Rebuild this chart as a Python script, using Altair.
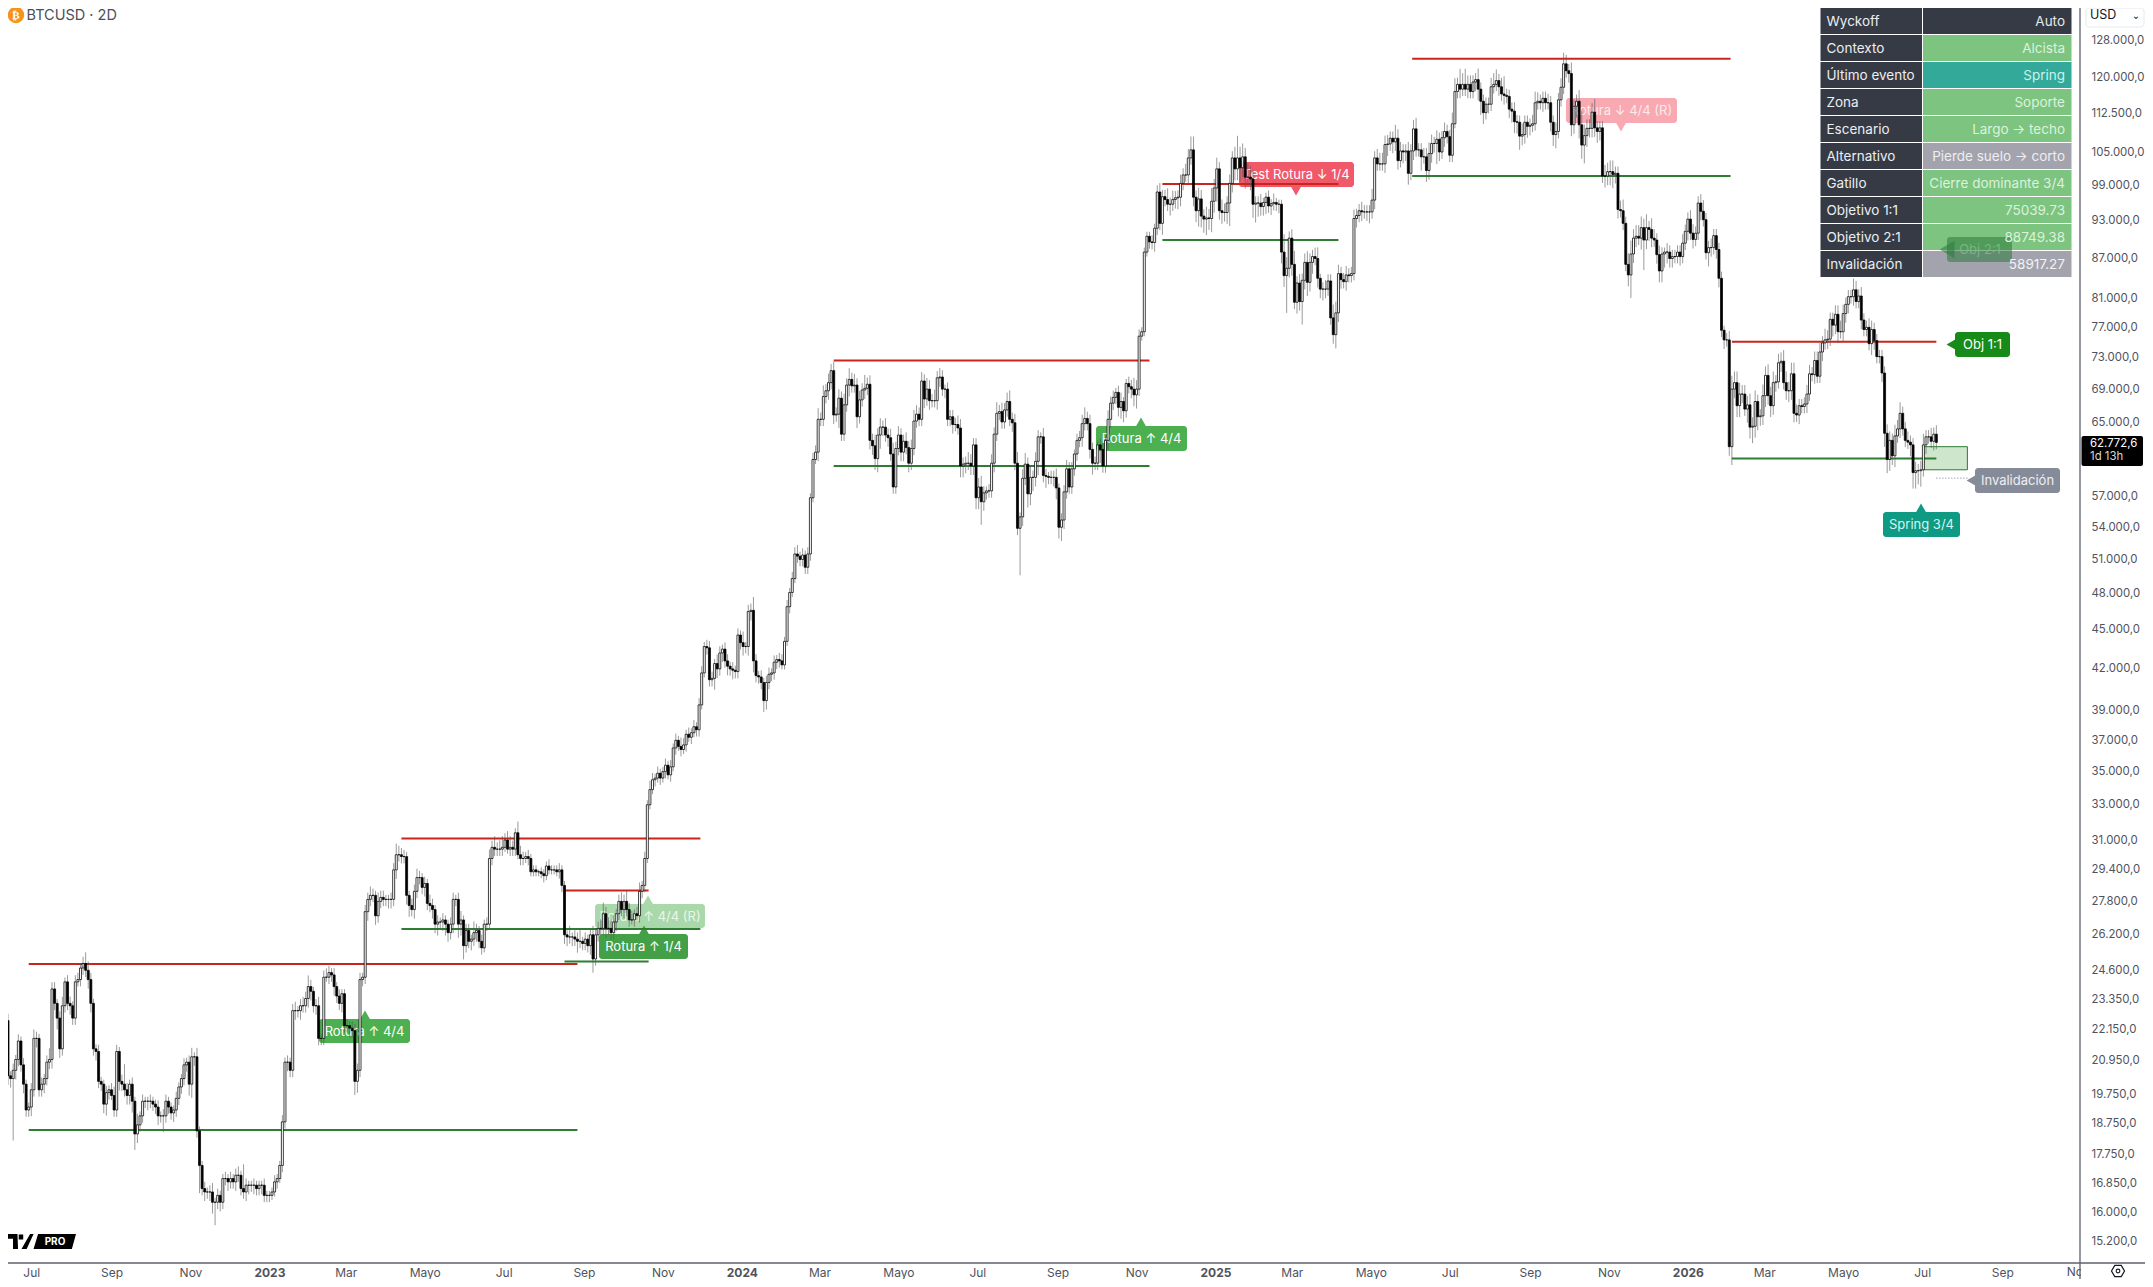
import datetime as dt
import altair as alt
import pandas as pd

# ---------------- candle closes, thousands of USD (2-day bars)
close_a = [
30.0,28.3,22.5,20.4,20.3,20.6,21.0,21.7,20.8,20.1,19.2,19.3,19.9,21.8,21.8,19.9,
20.1,20.3,20.9,21.0,23.8,23.2,22.6,21.4,23.1,24.1,23.2,23.1,22.6,24.1,24.2,24.7,
24.9,24.6,24.2,23.2,21.4,21.3,20.2,20.1,19.4,19.8,19.9,19.7,19.2,21.3,20.2,20.1,
19.9,19.7,20.1,19.5,18.4,18.7,19.0,19.5,19.5,19.5,19.5,19.4,19.3,19.0,19.0,19.0,
19.5,19.3,19.1,19.2,19.6,20.0,20.3,20.8,20.9,20.1,21.1,21.1,18.5,17.4,16.7,16.6,
16.6,16.6,16.3,16.3,16.5,16.3,17.0,17.0,16.9,17.0,16.9,17.1,17.1,16.7,16.6,16.8,
16.8,16.8,16.8,16.7,16.8,16.8,16.5,16.5,16.5,16.6,16.9,17.0,17.4,18.8,20.9,20.9,20.6,22.9,22.9,
22.9,23.1,23.1,23.4,23.9,23.7,23.1,23.1,21.8,21.8,24.3,24.3,24.5,24.4,23.9,23.5,23.2,
23.6,22.3,22.3,22.2,22.1,20.2,20.6,24.2,24.3,27.3,27.9,28.1,28.1,27.1,27.8,28.0,
27.9,27.9,27.9,27.9,29.4,30.2,30.2,30.1,30.1,28.1,27.6,27.4,28.3,29.0,29.0,28.5,
28.7,27.7,27.6,27.4,26.7,26.8,26.8,26.9,26.7,26.3,26.7,27.9,27.9,26.7,26.9,25.7,
26.4,25.9,26.0,26.3,26.4,25.9,25.6,26.7,26.7,30.0,30.6,30.5,30.5,30.5,30.6,31.0,30.5,30.6,
30.5,31.4,30.2,30.0,30.0,30.1,30.0,29.3,29.4,29.3,29.3,29.2,29.1,29.6,29.4,29.4,
29.4,29.3,29.4,28.6,26.2,26.1,26.1,26.1,26.0,25.9,25.9,25.8,26.0,25.7,26.2,25.1,26.2,26.5,
26.5,27.2,26.5,26.5,26.3,26.8,27.2,27.8,27.4,27.8,27.4,26.9,26.9,27.2,27.1,28.3,28.6,30.0,
33.0,33.9,34.5,
]
close_b = [34.6,34.9,34.6,35.0,35.4,34.8,35.3,36.5,37.0,36.6,36.4,36.7,37.4,37.2,37.5,37.9,37.7]
close_c = [
39.4,41.7,43.7,43.6,41.2,41.3,42.4,42.0,43.2,43.5,42.6,42.2,42.0,41.9,41.8,44.6,44.0,
43.7,43.7,46.5,46.6,42.6,41.5,41.4,41.0,39.7,41.0,41.6,41.7,42.5,42.7,42.6,42.3,
44.1,46.9,48.1,49.3,51.5,51.3,51.0,51.4,50.3,51.5,56.9,60.9,61.7,65.4,65.4,68.1,68.8,
69.8,71.3,65.9,66.0,67.9,63.7,67.1,69.5,70.2,69.4,69.5,65.7,67.7,68.9,69.1,69.6,63.0,
62.4,61.0,63.6,64.5,64.5,63.6,63.3,61.5,58.0,62.1,63.6,61.7,62.9,62.2,60.5,62.1,65.2,66.0,
65.4,70.0,67.8,69.0,67.6,67.6,67.6,70.4,70.5,69.0,69.0,65.4,65.7,64.8,64.8,64.4,
60.2,60.4,60.5,60.5,60.2,62.5,56.9,58.0,56.5,57.4,57.6,57.6,60.5,63.7,66.1,66.3,65.1,66.5,
67.5,65.4,65.0,60.5,53.9,55.0,58.9,60.4,57.3,59.0,59.0,60.7,63.4,63.4,59.2,59.1,59.0,
59.0,59.0,57.9,54.0,54.7,57.5,59.9,58.0,59.9,61.5,63.0,63.3,64.9,65.5,64.9,62.0,60.5,
60.5,62.5,62.0,60.2,63.0,65.4,67.3,68.0,68.6,66.8,67.5,66.4,69.7,69.3,69.0,68.3,69.0,
75.8,76.4,88.0,
]
close_d = [
90.5,89.6,89.5,91.8,97.9,92.6,97.1,96.6,95.8,95.8,96.6,96.9,97.0,99.4,100.9,100.9,104.0,
105.5,97.0,94.7,96.7,93.8,93.3,93.5,93.4,96.3,98.6,102.0,94.7,94.4,94.4,96.0,99.4,104.0,
102.0,104.0,102.2,104.2,100.5,100.5,100.2,95.8,96.0,96.0,95.4,96.1,97.0,95.5,95.9,96.1,95.8,
95.8,88.0,84.4,85.5,90.2,86.1,80.5,83.3,80.6,83.7,86.4,83.4,86.4,87.3,87.0,84.0,82.4,
82.4,82.4,83.6,78.3,76.0,79.0,84.7,83.8,83.5,84.5,84.4,84.7,93.4,93.9,94.7,94.5,94.5,
94.5,94.5,96.5,104.0,102.9,102.9,102.9,106.5,106.6,107.7,107.0,107.7,103.5,105.3,105.1,105.3,101.2,
105.3,109.5,105.5,105.5,104.2,104.2,101.7,104.8,106.7,106.7,107.5,105.1,107.8,109.0,108.0,104.5,110.5,
117.0,118.5,117.5,118.5,117.5,118.5,117.0,119.0,119.5,117.5,115.0,112.7,114.4,114.4,118.0,118.5,119.3,
118.0,116.5,116.2,116.0,113.4,113.0,110.9,110.8,108.1,108.4,110.8,110.0,110.2,110.5,114.7,115.0,114.7,
115.6,114.7,114.7,110.8,108.4,109.0,115.3,117.9,122.9,121.4,120.8,110.3,114.0,115.0,110.3,106.4,108.2,
109.6,109.6,112.8,109.7,109.0,109.7,100.7,100.7,101.5,101.5,101.0,101.2,94.9,94.7,92.6,86.1,84.5,
87.7,90.2,90.5,90.2,91.9,89.9,91.9,91.6,90.2,89.9,87.6,85.1,87.7,88.0,88.0,87.0,87.3,
87.3,88.0,87.3,89.4,91.3,93.3,91.0,90.0,91.0,96.0,94.6,93.2,87.9,88.7,88.7,90.6,88.4,
84.0,76.6,75.3,75.3,62.3,
]
close_e = [
69.0,69.8,67.0,68.4,68.4,66.6,67.1,64.5,64.6,67.5,65.7,65.8,68.2,70.7,68.2,67.0,69.8,69.9,72.3,72.5,
69.8,68.8,68.8,70.9,66.1,65.9,67.0,66.9,67.2,68.4,70.9,70.8,72.6,70.6,73.7,74.9,75.3,75.4,78.1,77.3,
78.8,76.4,76.4,78.9,80.2,81.3,81.3,82.3,80.6,81.4,78.0,76.7,77.0,74.8,76.7,75.2,73.1,73.1,71.0,63.8,
60.9,63.0,61.3,63.5,64.3,66.1,64.3,63.0,62.8,62.5,59.5,59.7,59.7,59.8,62.5,63.4,63.4,62.9,63.7,62.77,
]
# wick lengths above / below the body, in half-percent steps, estimated bar by bar
wick_up = [
1,1,2,3,2,3,2,3,2,3,2,2,3,4,3,2,3,2,3,5,3,3,2,3,4,
2,3,3,2,3,3,2,3,5,4,3,2,2,3,2,2,3,2,3,4,3,2,3,9,3,
2,3,2,5,2,3,2,2,3,2,2,3,2,3,3,2,2,2,3,2,2,3,2,3,4,
2,4,2,2,3,2,3,4,2,3,2,2,3,2,3,2,3,4,2,11,3,2,2,3,2,
2,2,3,2,2,2,3,2,2,3,2,3,2,3,4,2,3,4,3,5,3,2,3,4,2,
3,4,3,2,3,2,3,2,2,3,2,3,3,3,3,2,3,3,4,3,2,4,3,3,2,
2,3,3,5,4,3,3,2,2,3,3,4,3,2,3,2,4,3,2,3,2,3,2,2,3,
3,2,3,4,2,3,3,2,5,3,2,3,2,3,4,3,5,3,4,5,3,4,5,3,2,
5,4,3,2,3,2,2,2,1,2,2,2,3,2,2,2,3,2,2,2,5,2,3,3,5,
2,3,2,3,4,3,3,4,5,3,5,4,3,2,3,4,3,5,3,4,2,3,4,2,3,
2,4,3,2,3,2,2,3,2,3,2,3,2,4,3,2,3,2,3,2,3,3,2,3,3,
3,2,4,3,2,3,3,2,3,2,3,2,5,2,3,3,6,3,2,3,2,3,3,2,3,
2,3,3,2,3,2,3,3,4,2,3,2,3,2,3,3,5,3,5,3,4,3,4,3,4,
3,5,3,5,3,5,3,4,3,6,3,4,3,5,3,4,3,4,3,4,5,3,4,3,3,
4,3,4,5,4,3,4,3,5,4,3,5,3,4,3,2,3,3,3,3,4,4,3,3,5,
4,3,3,4,5,3,2,3,4,3,5,3,4,3,4,5,3,4,5,2,4,5,3,5,3,
4,3,2,4,3,2,3,3,4,2,3,3,4,3,3,2,3,3,4,5,3,4,3,3,2,
3,3,2,4,3,3,2,3,4,2,2,3,3,5,4,3,2,2,2,2,3,2,3,4,3,
3,5,3,4,3,3,4,3,5,4,6,6,3,5,4,3,5,4,6,4,5,3,5,4,3,
4,3,5,10,5,6,4,6,5,4,3,3,4,2,2,3,2,4,2,2,2,8,5,3,4,
6,3,4,3,4,5,4,3,4,5,2,3,4,3,3,6,5,4,3,3,4,3,3,4,3,
3,4,3,3,3,5,3,4,5,5,4,4,3,3,6,4,4,3,3,4,3,4,5,3,3,
4,4,5,4,3,4,3,3,4,3,3,5,6,3,7,5,7,4,4,3,3,5,3,3,3,
3,4,5,5,3,4,8,3,3,3,4,3,3,5,3,3,3,4,5,4,3,3,3,4,3,
3,4,3,4,5,4,3,5,3,3,5,6,5,4,4,4,6,3,3,3,5,4,5,5,3,
3,4,5,3,5,6,4,5,5,5,4,6,3,5,4,3,4,3,2,4,3,3,3,3,3,
4,3,3,4,4,3,3,4,5,3,3,4,3,3,3,3,2,3,4,6,5,5,5,4,4,
4,5,4,5,3,3,5,4,5,4,5,3,4,4,5,5,4,5,5,4,3,3,3,4,4,
3,4,4,4,3,5,4,3,3,4,4,5,4,3,3,3,5,4,3,4,3,3,4,4,3,
3,3,3,3,4,4,3,5,4,5,3,3,4,3,3,4,3,4,5,3,3,4,3,4,3,
]
wick_dn = [
3,3,3,4,4,26,4,3,3,4,3,3,4,3,4,3,3,4,3,3,4,3,5,4,3,
3,3,4,3,3,2,3,3,3,4,4,3,4,3,3,4,5,3,2,3,3,4,3,3,4,
4,5,7,4,3,3,3,4,3,3,3,4,3,7,3,3,3,4,3,3,3,3,3,5,6,
4,3,12,3,4,3,4,5,10,3,4,3,3,4,3,3,4,3,3,3,4,4,3,4,3,
3,4,3,3,3,2,2,3,2,3,3,4,3,3,4,3,4,3,3,4,4,3,4,3,3,
3,2,3,3,4,3,3,4,3,3,4,3,6,5,3,3,3,4,3,3,4,3,3,3,3,
4,4,3,4,3,3,3,4,5,3,4,3,3,3,4,3,3,4,4,5,3,4,5,4,3,
4,3,6,5,6,3,3,4,3,4,3,3,2,3,2,3,3,3,3,3,2,2,3,3,3,
2,3,3,2,3,2,2,2,2,2,3,2,2,2,2,2,3,3,4,4,3,4,3,5,3,
3,3,3,4,6,3,3,3,3,4,3,3,3,4,3,3,4,3,3,2,3,2,3,3,3,
2,2,2,3,2,3,2,3,2,3,2,3,2,3,2,3,2,3,2,3,3,2,2,3,3,
3,5,4,3,4,3,4,3,4,3,3,3,4,3,4,4,5,3,3,3,5,4,3,3,3,
3,3,2,2,2,3,2,2,3,3,3,3,3,3,2,2,4,3,3,3,4,3,4,3,6,
3,3,3,5,3,3,5,3,3,4,3,4,4,5,6,6,4,3,4,3,3,3,3,4,4,
3,4,3,3,3,3,3,4,3,4,3,3,4,4,3,4,3,3,4,3,3,5,5,4,3,
4,4,5,5,10,4,3,3,3,4,3,3,3,3,3,3,4,3,3,20,4,3,6,5,6,
4,6,3,3,5,3,3,4,5,5,6,4,3,3,3,3,3,3,4,3,3,4,5,3,3,
6,3,3,4,4,3,3,4,5,5,3,3,4,5,6,3,2,2,2,3,3,4,3,3,5,
3,3,5,3,4,5,4,3,3,4,3,4,5,7,5,6,7,5,6,5,6,4,5,4,5,
10,4,5,5,6,4,5,4,5,6,8,6,4,4,5,3,4,3,3,4,5,5,16,4,5,
3,5,4,10,4,6,4,5,3,4,4,5,4,3,3,4,6,4,4,3,4,3,3,3,4,
3,4,3,4,5,3,4,3,3,3,4,5,3,5,4,4,3,5,4,5,3,4,3,3,6,
3,5,4,4,4,9,4,3,4,3,3,3,2,3,4,3,3,4,3,3,4,5,6,5,3,
4,3,3,3,4,3,4,3,4,5,5,5,6,4,4,5,4,3,3,3,3,4,3,3,4,
5,6,3,3,3,3,4,5,4,5,6,6,8,5,4,4,4,5,4,3,5,4,6,6,4,
4,3,3,3,5,10,4,4,3,5,13,4,5,4,3,4,5,5,6,5,4,4,3,3,4,
3,3,4,3,4,3,3,4,3,3,6,4,3,4,4,3,4,3,4,8,4,5,5,4,3,
6,5,7,5,6,4,4,5,4,5,4,4,3,4,3,4,5,4,4,3,4,3,3,4,3,
3,4,3,3,4,3,4,3,5,4,5,3,4,4,4,3,4,3,3,4,3,3,3,5,4,
3,3,4,6,6,5,4,5,3,4,3,3,3,5,7,7,6,7,3,4,3,3,4,3,3,
]

# ---------------- range levels: (start, end, price)
red_levels = [("2022-06-29","2023-08-27",24880),("2023-04-13","2023-11-30",31080),("2023-08-17","2023-10-21",28340),
              ("2024-03-12","2024-11-11",72600),("2024-11-21","2025-04-06",99300),("2025-06-02","2026-02-03",124000),
              ("2026-02-04","2026-07-12",75039.73)]
green_levels = [("2022-06-29","2023-08-27",18530),("2023-04-13","2023-11-30",26470),("2023-08-17","2023-10-21",24990),
                ("2024-03-12","2024-11-11",60200),("2024-11-21","2025-04-06",89900),("2025-06-02","2026-02-03",100700),
                ("2026-02-04","2026-07-12",61000)]
invalidation = 58917.27
zone = ("2026-07-02","2026-08-05",59800,62300)

price_ticks = [128000,120000,112500,105000,99000,93000,87000,81000,77000,73000,69000,65000,57000,54000,51000,48000,45000,
               42000,39000,37000,35000,33000,31000,29400,27800,26200,24600,23350,22150,20950,19750,18750,17750,16850,16000,15200]
month_ticks = [(2022,7),(2022,9),(2022,11),(2023,1),(2023,3),(2023,5),(2023,7),(2023,9),(2023,11),(2024,1),(2024,3),(2024,5),(2024,7),
               (2024,9),(2024,11),(2025,1),(2025,3),(2025,5),(2025,7),(2025,9),(2025,11),(2026,1),(2026,3),(2026,5),(2026,7),(2026,9)]

# ---------------- panel text
table_keys = ["Wyckoff","Contexto","Último evento","Zona","Escenario","Alternativo","Gatillo","Objetivo 1:1","Objetivo 2:1","Invalidación"]
table_vals = ["Auto","Alcista","Spring","Soporte","Largo → techo","Pierde suelo → corto","Cierre dominante 3/4","75039.73","88749.38","58917.27"]
table_fill = ["#363a45","#7cc47f","#33a99a","#7cc47f","#7cc47f","#a3a3ad","#7cc47f","#7cc47f","#7cc47f","#a3a3ad"]
table_ink  = ["#e6e7ea","#dcf2dd","#c9f2ec","#dcf2dd","#dcf2dd","#eeeef2","#dcf2dd","#dcf2dd","#dcf2dd","#f2f2f5"]

# label: text, left, right, top, bottom, fill, ink, pointer shape, pointer x, pointer y
event_labels = [
    ("Rotura ↑ 4/4",319,410,1019,1043,"#4caf50","#ffffff","triangle-up",365,1019),
    ("Rotura ↑ 4/4 (R)",595,705,904,928,"#a9d9ab","#eaf6ea","triangle-up",648,904),
    ("Rotura ↑ 1/4",599,688,934,959,"#43a047","#ffffff","triangle-up",644,934),
    ("Rotura ↑ 4/4",1096,1187,426,451,"#4caf50","#ffffff","triangle-up",1141,426),
    ("Test Rotura ↓ 1/4",1239,1354,162,187,"#f0596a","#ffffff","triangle-down",1296,187),
    ("Rotura ↓ 4/4 (R)",1566,1677,98,123,"#f8a9b2","#fde9eb","triangle-down",1621,123),
    ("Obj 1:1",1955,2010,332,357,"#178a17","#ffffff","triangle-left",1955,344.5),
    ("Invalidación",1975,2060,468,493,"#868b99","#eeeff2","triangle-left",1975,480.5),
    ("Spring 3/4",1883,1960,512,537,"#0e9a83","#d6f5ef","triangle-up",1921,512),
]

# ---------------- build tables
closes = close_a + close_b + close_c + close_d + close_e
start = dt.date(2022, 6, 7)
rows = []
prev = 30.6
for i, c in enumerate(closes):
    u = wick_up[i] if i < len(wick_up) else 2
    d = wick_dn[i] if i < len(wick_dn) else 2
    rows.append({
        "date": (start + dt.timedelta(days=2 * i)).isoformat(),
        "open": prev * 1000, "close": c * 1000,
        "high": max(prev, c) * 1000 * (1 + u * 0.004),
        "low": min(prev, c) * 1000 * (1 - d * 0.004),
        "fill": "#ffffff" if c >= prev else "#000000",
    })
    prev = c
candles = pd.DataFrame(rows)

XS = alt.Scale(domain=["2022-06-13", "2026-10-31"], nice=False, padding=0)
YS = alt.Scale(type="log", domain=[14634, 135700], nice=False)
FONT = "Inter"
blank = alt.Data(values=[{"a": 1}])


def rect(x0, x1, y0, y1, color, radius=0, **kw):
    return alt.Chart(blank).mark_rect(color=color, cornerRadius=radius, **kw).encode(
        x=alt.value(x0 - 8), x2=alt.value(x1 - 8), y=alt.value(y0 - 8), y2=alt.value(y1 - 8))


def label(txt, x, y, size=13, color="#fff", align="center", weight="normal", font=FONT, opacity=1):
    return alt.Chart(blank).mark_text(text=txt, fontSize=size, color=color, align=align, baseline="middle",
                                      fontWeight=weight, font=font, opacity=opacity).encode(
        x=alt.value(x - 8), y=alt.value(y - 8))


def sym(shape, x, y, size, color, filled=True, width=0, opacity=1):
    return alt.Chart(blank).mark_point(shape=shape, size=size, color=color, filled=filled, opacity=opacity,
                                       strokeWidth=width).encode(x=alt.value(x - 8), y=alt.value(y - 8))


layers = []
for t, x0, x1, y0, y1, fill, ink, shape, px, py in event_labels:
    layers.append(rect(x0, x1, y0, y1, fill, radius=3))
    layers.append(sym(shape, px, py, 380, fill))
    layers.append(label(t, (x0 + x1) / 2, (y0 + y1) / 2 + 0.5, color=ink))

# zone + levels
layers.append(alt.Chart(pd.DataFrame([{"a": zone[0], "b": zone[1], "lo": zone[2], "hi": zone[3]}])).mark_rect(
    fill="#cde6cc", stroke="#2e7d32", strokeWidth=1).encode(
    x=alt.X("a:T", scale=XS), x2="b:T", y=alt.Y("lo:Q", scale=YS), y2="hi:Q"))
for levels, col in ((red_levels, "#c9251c"), (green_levels, "#2e7d32")):
    df = pd.DataFrame(levels, columns=["a", "b", "p"])
    layers.append(alt.Chart(df).mark_rule(color=col, strokeWidth=2).encode(
        x=alt.X("a:T", scale=XS), x2="b:T", y=alt.Y("p:Q", scale=YS)))
layers.append(alt.Chart(pd.DataFrame([{"a": "2026-07-12", "b": "2026-08-06", "p": invalidation}])).mark_rule(
    color="#787b86", strokeWidth=1, strokeDash=[1, 2]).encode(
    x=alt.X("a:T", scale=XS), x2="b:T", y=alt.Y("p:Q", scale=YS)))

# candles
month_expr = ("month(datum.value)==0 ? timeFormat(datum.value,'%Y') : "
              "['','','Mar','','Mayo','','Jul','','Sep','','Nov',''][month(datum.value)]")
x_axis = alt.Axis(title=None, values=[alt.DateTime(year=y, month=m, date=1) for y, m in month_ticks],
                  labelExpr=month_expr, grid=False, ticks=False, domain=False, labelPadding=4, labelFont=FONT,
                  labelFontSize=12, labelColor="#4f525c", labelOverlap=False, labelFlush=False, labelBound=False,
                  labelFontWeight=alt.condition("month(datum.value)==0", alt.value("bold"), alt.value("normal")))
y_axis = alt.Axis(title=None, orient="right", values=price_ticks, grid=False, ticks=False, domain=False,
                  labelExpr="replace(replace(replace(format(datum.value,',.1f'),',','X'),'.',','),'X','.')",
                  labelPadding=11, labelFont=FONT, labelFontSize=11.4, labelColor="#50535e", labelOverlap=False,
                  labelBound=False, labelFlush=False)
layers.append(alt.Chart(candles).mark_rule(color="#555555", strokeWidth=0.6, clip=True).encode(
    x=alt.X("date:T", scale=XS, axis=x_axis), y=alt.Y("low:Q", scale=YS, axis=y_axis), y2="high:Q"))
layers.append(alt.Chart(candles).mark_bar(size=2, stroke="#000000", strokeWidth=0.75, clip=True).encode(
    x=alt.X("date:T", scale=XS), y=alt.Y("open:Q", scale=YS), y2="close:Q", fill=alt.Fill("fill:N", scale=None)))

# table
for i, (k, v, f, ink) in enumerate(zip(table_keys, table_vals, table_fill, table_ink)):
    top = 8 + i * 27
    layers.append(rect(1820.5, 1922, top, top + 26, "#363a45"))
    layers.append(rect(1923, 2071.5, top, top + 26, f))
layers.append(rect(1947, 2012, 237, 262, "#2c7a3c", radius=3, opacity=0.55))
layers.append(sym("triangle-left", 1947, 249.5, 300, "#2c7a3c", opacity=0.55))
layers.append(label("Obj 2:1", 1980, 250, color="#7fbf87", opacity=0.8))
for i, (k, v, ink) in enumerate(zip(table_keys, table_vals, table_ink)):
    cy = 8 + i * 27 + 14
    layers.append(label(k, 1826.5, cy, size=13.5, color="#eceef2", align="left"))
    layers.append(label(v, 2065, cy, size=13.5, color=ink, align="right"))

# chart furniture: the last month label runs under the price scale and is cut by it
layers.append(label("Nov", 2078, 1271.5, size=12, color="#4f525c"))
layers.append(rect(2081, 2145, 1264, 1279, "#ffffff"))
layers.append(alt.Chart(blank).mark_rule(color="#5d606b", strokeWidth=1.3).encode(
    x=alt.value(2080 - 8), y=alt.value(0), y2=alt.value(1271)))
layers.append(alt.Chart(blank).mark_rule(color="#5d606b", strokeWidth=1.3).encode(
    x=alt.value(0), x2=alt.value(2137), y=alt.value(1263 - 8)))

# title
layers.append(sym("circle", 16, 15, 270, "#f7931a"))
layers.append(label("₿", 16, 15.5, size=11, color="#ffffff", weight="bold", font="DejaVu Sans"))
layers.append(label("BTCUSD · 2D", 26.5, 16, size=14.5, color="#4c4f59", align="left"))

# USD selector
layers.append(alt.Chart(blank).mark_rect(fill="#ffffff", stroke="#e6e8ee", strokeWidth=1, cornerRadius=3).encode(
    x=alt.value(2086 - 8), x2=alt.value(2136 - 8 + 8), y=alt.value(0), y2=alt.value(27 - 8)))
layers.append(label("USD", 2090, 15, size=12.5, color="#131722", align="left"))
layers.append(label("⌄", 2136, 16, size=10, color="#131722", font="DejaVu Sans"))

# last price tag
layers.append(rect(2081.5, 2143, 436, 466, "#000000", radius=2))
layers.append(label("62.772,6", 2090, 444, size=11.4, color="#ffffff", align="left"))
layers.append(label("1d 13h", 2090, 457, size=11.4, color="#d8d8d8", align="left"))

# settings glyph
layers.append(sym("M-1,0 L-0.5,-0.87 L0.5,-0.87 L1,0 L0.5,0.87 L-0.5,0.87 Z", 2118, 1271, 170, "#131722",
                  filled=False, width=1.2))
layers.append(sym("circle", 2118, 1271, 14, "#131722", filled=False, width=1.1))

# TV PRO mark
logo = ("M-1,-0.217 L-0.696,-0.217 L-0.68,0.217 L-0.826,0.217 L-0.826,-0.08 L-1,-0.08 Z "
        "M-0.66,-0.2 L-0.53,-0.2 L-0.53,-0.06 L-0.66,-0.06 Z "
        "M-0.33,-0.217 L-0.23,-0.217 L-0.43,0.217 L-0.58,0.217 Z "
        "M-0.10,-0.217 L1,-0.217 L0.88,0.217 L-0.23,0.217 Z")
layers.append(sym(logo, 41.5, 1241.5, 4761, "#000000"))
layers.append(label("PRO", 55, 1241.5, size=10, color="#ffffff", weight="bold"))

chart = alt.layer(*layers).properties(
    width=2072, height=1255, background="#ffffff",
    padding={"left": 0, "top": 0, "right": 65, "bottom": 16},
    autosize=alt.AutoSizeParams(type="none"),
).configure_view(stroke=None)

chart.save("out.html", embed_options={"renderer": "svg", "actions": False})
